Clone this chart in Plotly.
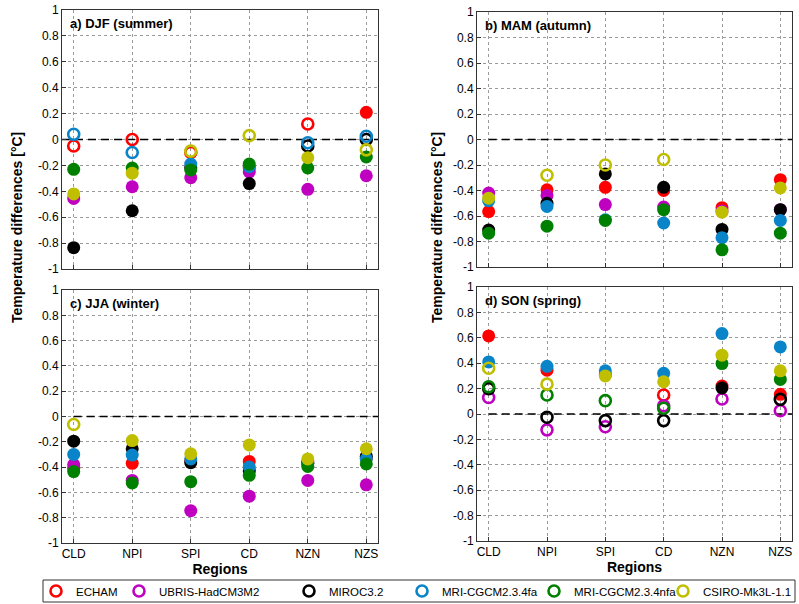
import plotly.graph_objects as go

regions = ["CLD", "NPI", "SPI", "CD", "NZN", "NZS"]
models = ["ECHAM", "UBRIS-HadCM3M2", "MIROC3.2", "MRI-CGCM2.3.4fa", "MRI-CGCM2.3.4nfa", "CSIRO-Mk3L-1.1"]
colors = ["#ff0000", "#c000c0", "#000000", "#0a84c8", "#008000", "#bfbf00"]
y_ticks = [-1, -0.8, -0.6, -0.4, -0.2, 0, 0.2, 0.4, 0.6, 0.8, 1]
y_tick_labels = ["-1", "-0.8", "-0.6", "-0.4", "-0.2", "0", "0.2", "0.4", "0.6", "0.8", "1"]
panel_titles = ["a) DJF (summer)", "b) MAM (autumn)", "c) JJA (winter)", "d) SON (spring)"]

# values per model (rows follow `models`), columns follow `regions`
djf_values = [
    [-0.05, 0.00, -0.10, -0.22, 0.12, 0.21],
    [-0.455, -0.365, -0.295, -0.25, -0.385, -0.28],
    [-0.835, -0.55, -0.22, -0.34, -0.05, 0.00],
    [0.04, -0.10, -0.19, -0.21, -0.025, 0.025],
    [-0.23, -0.22, -0.235, -0.19, -0.22, -0.135],
    [-0.42, -0.26, -0.09, 0.03, -0.14, -0.08],
]
djf_sig = [
    [0, 0, 0, 1, 0, 1],
    [1, 1, 1, 1, 1, 1],
    [1, 1, 1, 1, 0, 0],
    [0, 0, 1, 1, 0, 0],
    [1, 1, 1, 1, 1, 1],
    [1, 1, 0, 0, 1, 0],
]
mam_values = [
    [-0.565, -0.395, -0.375, -0.40, -0.535, -0.315],
    [-0.42, -0.44, -0.51, -0.53, -0.56, -0.55],
    [-0.71, -0.50, -0.27, -0.375, -0.705, -0.55],
    [-0.48, -0.525, -0.63, -0.655, -0.77, -0.635],
    [-0.735, -0.68, -0.635, -0.55, -0.865, -0.735],
    [-0.46, -0.28, -0.20, -0.157, -0.57, -0.38],
]
mam_sig = [
    [1, 1, 1, 1, 1, 1],
    [1, 1, 1, 1, 1, 1],
    [1, 1, 1, 1, 1, 1],
    [1, 1, 1, 1, 1, 1],
    [1, 1, 1, 1, 1, 1],
    [1, 0, 0, 0, 1, 1],
]
jja_values = [
    [-0.41, -0.37, -0.35, -0.355, -0.36, -0.33],
    [-0.38, -0.505, -0.745, -0.63, -0.505, -0.54],
    [-0.195, -0.255, -0.365, -0.43, -0.37, -0.315],
    [-0.30, -0.305, -0.335, -0.40, -0.37, -0.335],
    [-0.435, -0.525, -0.515, -0.465, -0.395, -0.375],
    [-0.063, -0.19, -0.295, -0.225, -0.335, -0.255],
]
jja_sig = [
    [1, 1, 1, 1, 1, 1],
    [1, 1, 1, 1, 1, 1],
    [1, 1, 1, 1, 1, 1],
    [1, 1, 1, 1, 1, 1],
    [1, 1, 1, 1, 1, 1],
    [0, 1, 1, 1, 1, 1],
]
son_values = [
    [0.615, 0.345, 0.31, 0.15, 0.22, 0.155],
    [0.13, -0.125, -0.10, 0.065, 0.118, 0.026],
    [0.20, -0.026, -0.052, -0.052, 0.205, 0.115],
    [0.41, 0.375, 0.34, 0.32, 0.633, 0.528],
    [0.215, 0.15, 0.105, 0.045, 0.397, 0.272],
    [0.36, 0.235, 0.30, 0.254, 0.463, 0.34],
]
son_sig = [
    [1, 1, 1, 0, 1, 1],
    [0, 0, 0, 0, 0, 0],
    [0, 0, 0, 0, 1, 0],
    [1, 1, 1, 1, 1, 1],
    [0, 0, 0, 0, 1, 1],
    [0, 0, 1, 1, 1, 1],
]

seasons_values = [djf_values, mam_values, jja_values, son_values]
seasons_sig = [djf_sig, mam_sig, jja_sig, son_sig]

W, H = 799, 604
FONT = "Liberation Sans, Arial, sans-serif"


def px(x):
    return x / W


def py(y):
    return 1 - y / H


# panel boxes in pixels: left, right, top, bottom
boxes = [(62, 378, 10, 269), (477, 792, 12, 267), (62, 378, 290, 543), (477, 792, 287, 541)]

fig = go.Figure()
xpos = list(range(1, len(regions) + 1))

for p in range(4):
    ax = "" if p == 0 else str(p + 1)
    xref, yref = "x" + ax, "y" + ax
    # zero line (dashed)
    x0 = 0.8 if p == 0 else 1
    fig.add_trace(go.Scatter(x=[x0, 6.2], y=[0, 0], mode="lines", xaxis=xref, yaxis=yref,
                             line=dict(color="black", width=1.3, dash="8px,5px"),
                             showlegend=False, hoverinfo="skip"))
    for m in range(len(models)):
        vals = seasons_values[p][m]
        sig = seasons_sig[p][m]
        for filled in (1, 0):
            xs = [xpos[i] for i in range(len(regions)) if sig[i] == filled]
            ys = [vals[i] for i in range(len(regions)) if sig[i] == filled]
            if not xs:
                continue
            if filled:
                marker = dict(symbol="circle", size=13, color=colors[m], line=dict(width=0))
            else:
                marker = dict(symbol="circle-open", size=11, color=colors[m], line=dict(width=2.6, color=colors[m]))
            fig.add_trace(go.Scatter(x=xs, y=ys, mode="markers", xaxis=xref, yaxis=yref,
                                     marker=marker, showlegend=False, name=models[m]))

    l, r, t, b = boxes[p]
    xdom = [px(l), px(r)]
    ydom = [py(b), py(t)]
    bottom = p >= 2
    xa = dict(domain=xdom, range=[0.8, 6.2], anchor=yref, tickvals=xpos, ticktext=regions,
              showticklabels=bottom, showgrid=True, gridcolor="#9a9a9a", griddash="dot", gridwidth=1,
              showline=True, linecolor="#333", linewidth=1, mirror=True, ticks="inside", ticklen=4,
              tickcolor="#333", zeroline=False, ticklabeloverflow="allow",
              tickfont=dict(family=FONT, size=12, color="black"))
    ya = dict(domain=ydom, range=[-1, 1], anchor=xref, tickvals=y_ticks, ticktext=y_tick_labels,
              showgrid=True, gridcolor="#9a9a9a", griddash="dot", gridwidth=1,
              showline=True, linecolor="#333", linewidth=1, mirror=True, ticks="inside", ticklen=4,
              tickcolor="#333", zeroline=False, ticklabeloverflow="allow",
              tickfont=dict(family=FONT, size=12, color="black"))
    if bottom:
        xa["title"] = dict(text="<b>Regions</b>", font=dict(family=FONT, size=14, color="black"), standoff=0)
    fig.update_layout(**{"xaxis" + ax: xa, "yaxis" + ax: ya})
    fig.add_annotation(text="<b>" + panel_titles[p] + "</b>", xref="paper", yref="paper",
                       x=px(l + 6), y=py(t + 13), xanchor="left", yanchor="middle",
                       showarrow=False, font=dict(family=FONT, size=13, color="black"))

# y titles
for xc in (17, 437):
    fig.add_annotation(text="<b>Temperature differences [°C]</b>", xref="paper", yref="paper",
                       x=px(xc), y=py(228), xanchor="center", yanchor="middle", textangle=-90,
                       showarrow=False, font=dict(family=FONT, size=14, color="black"))

# legend: one legend per entry, placed along a framed strip
legend_x = [36, 119, 289, 402, 534, 663]
for m in range(len(models)):
    key = "legend" if m == 0 else "legend" + str(m + 1)
    fig.add_trace(go.Scatter(x=[None], y=[None], mode="markers", name=models[m], legend=key,
                             marker=dict(symbol="circle-open", size=11, color=colors[m],
                                         line=dict(width=2.6, color=colors[m]))))
    fig.update_layout(**{key: dict(x=px(legend_x[m]), y=py(591), xref="container", yref="container",
                                   xanchor="left", yanchor="middle",
                                   bgcolor="rgba(0,0,0,0)", borderwidth=0, itemwidth=30,
                                   font=dict(family=FONT, size=11.5, color="black"))})
fig.add_shape(type="rect", xref="paper", yref="paper", x0=px(43), x1=px(795),
              y0=py(602), y1=py(580), line=dict(color="#333", width=1))

fig.update_layout(width=W, height=H, margin=dict(l=0, r=0, t=0, b=0, autoexpand=False),
                  paper_bgcolor="white", plot_bgcolor="white", showlegend=True,
                  font=dict(family=FONT, size=12, color="black"))

fig.write_html("out.html", config={"displayModeBar": False},
               post_script="document.body.style.margin='0px';document.body.style.overflow='hidden';")
